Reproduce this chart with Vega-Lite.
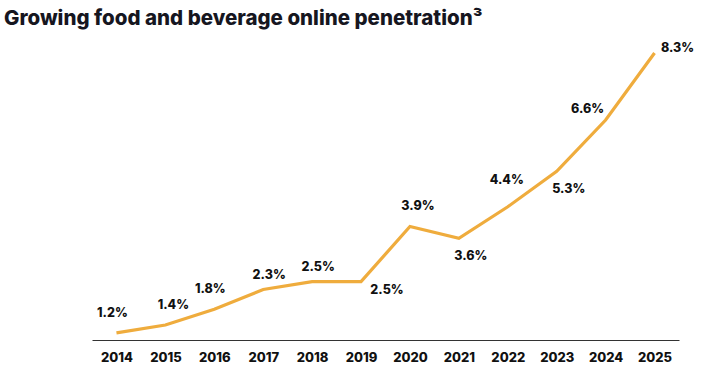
{
  "$schema": "https://vega.github.io/schema/vega-lite/v6.json",
  "autosize": {"type": "none"},
  "width": 587,
  "height": 300,
  "padding": {"left": 92, "top": 40, "right": 28, "bottom": 36},
  "background": "white",
  "title": {
    "text": "Growing food and beverage online penetration³",
    "anchor": "start",
    "frame": "group",
    "dx": -88,
    "offset": 11,
    "font": "Inter",
    "fontSize": 20.5,
    "fontWeight": 800,
    "color": "#16161f"
  },
  "config": {"view": {"stroke": null}},
  "data": {
    "values": [
      {"year": "2014", "value": 1.2, "label": "1.2%"},
      {"year": "2015", "value": 1.4, "label": "1.4%"},
      {"year": "2016", "value": 1.8, "label": "1.8%"},
      {"year": "2017", "value": 2.3, "label": "2.3%"},
      {"year": "2018", "value": 2.5, "label": "2.5%"},
      {"year": "2019", "value": 2.5, "label": "2.5%"},
      {"year": "2020", "value": 3.9, "label": "3.9%"},
      {"year": "2021", "value": 3.6, "label": "3.6%"},
      {"year": "2022", "value": 4.4, "label": "4.4%"},
      {"year": "2023", "value": 5.3, "label": "5.3%"},
      {"year": "2024", "value": 6.6, "label": "6.6%"},
      {"year": "2025", "value": 8.3, "label": "8.3%"}
    ]
  },
  "encoding": {
    "x": {
      "field": "year",
      "type": "ordinal",
      "scale": {"type": "point", "padding": 0.5},
      "axis": {
        "title": null,
        "labelAngle": 0,
        "ticks": false,
        "domainColor": "#333333",
        "domainWidth": 1,
        "labelFont": "Inter",
        "labelFontSize": 13,
        "labelFontWeight": 800,
        "labelColor": "#111111",
        "labelPadding": 11,
        "grid": false
      }
    },
    "y": {
      "field": "value",
      "type": "quantitative",
      "scale": {"domain": [1.02, 8.63], "zero": false, "nice": false},
      "axis": null
    }
  },
  "layer": [
    {
      "mark": {"type": "line", "color": "#EFAC3D", "strokeWidth": 3.2, "strokeCap": "butt"}
    },
    {
      "transform": [{"filter": {"field": "year", "oneOf": ["2014", "2016"]}}],
      "mark": {"type": "text", "font": "Inter", "fontSize": 12.5, "fontWeight": 800, "color": "#111111", "dx": -4, "dy": -20},
      "encoding": {"text": {"field": "label"}}
    },
    {
      "transform": [{"filter": {"field": "year", "oneOf": ["2015", "2020"]}}],
      "mark": {"type": "text", "font": "Inter", "fontSize": 12.5, "fontWeight": 800, "color": "#111111", "dx": 8, "dy": -20},
      "encoding": {"text": {"field": "label"}}
    },
    {
      "transform": [{"filter": {"field": "year", "oneOf": ["2017", "2018"]}}],
      "mark": {"type": "text", "font": "Inter", "fontSize": 12.5, "fontWeight": 800, "color": "#111111", "dx": 6, "dy": -15},
      "encoding": {"text": {"field": "label"}}
    },
    {
      "transform": [{"filter": {"field": "year", "oneOf": ["2022"]}}],
      "mark": {"type": "text", "font": "Inter", "fontSize": 12.5, "fontWeight": 800, "color": "#111111", "dx": -1, "dy": -27},
      "encoding": {"text": {"field": "label"}}
    },
    {
      "transform": [{"filter": {"field": "year", "oneOf": ["2019"]}}],
      "mark": {"type": "text", "font": "Inter", "fontSize": 12.5, "fontWeight": 800, "color": "#111111", "dx": 26, "dy": 8},
      "encoding": {"text": {"field": "label"}}
    },
    {
      "transform": [{"filter": {"field": "year", "oneOf": ["2021", "2023"]}}],
      "mark": {"type": "text", "font": "Inter", "fontSize": 12.5, "fontWeight": 800, "color": "#111111", "dx": 12, "dy": 18},
      "encoding": {"text": {"field": "label"}}
    },
    {
      "transform": [{"filter": {"field": "year", "oneOf": ["2024"]}}],
      "mark": {"type": "text", "font": "Inter", "fontSize": 12.5, "fontWeight": 800, "color": "#111111", "dx": -18, "dy": -11},
      "encoding": {"text": {"field": "label"}}
    },
    {
      "transform": [{"filter": {"field": "year", "oneOf": ["2025"]}}],
      "mark": {"type": "text", "font": "Inter", "fontSize": 12.5, "fontWeight": 800, "color": "#111111", "dx": 23, "dy": -5},
      "encoding": {"text": {"field": "label"}}
    }
  ]
}
